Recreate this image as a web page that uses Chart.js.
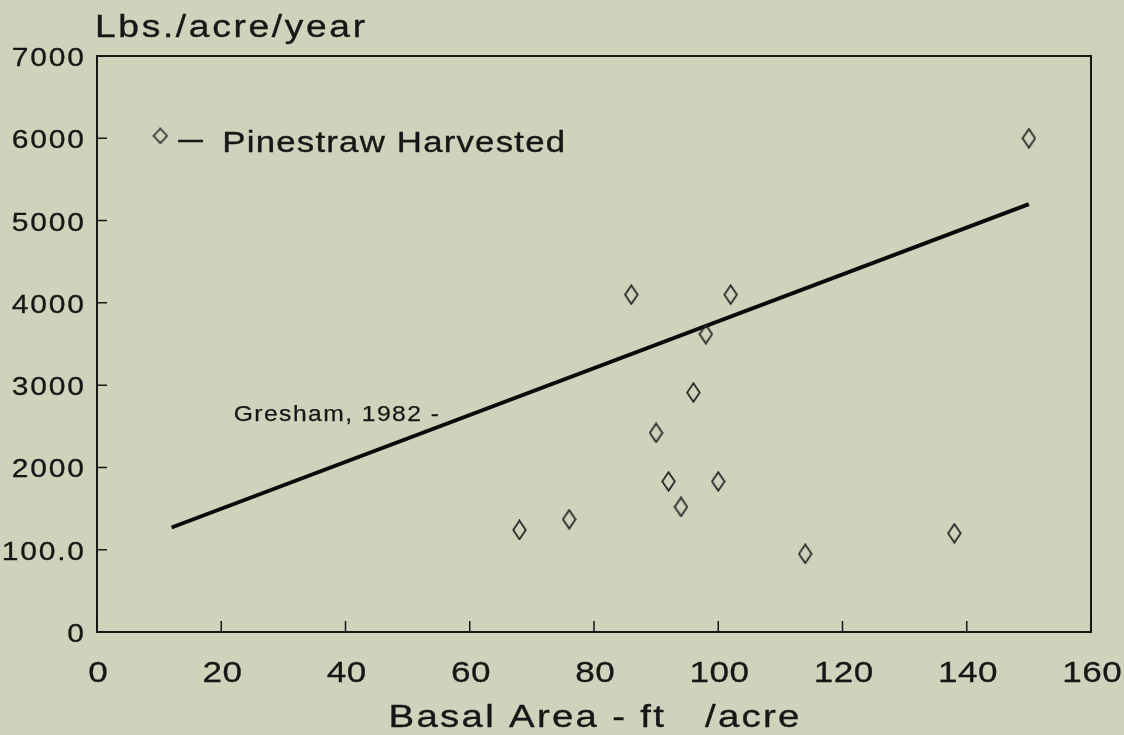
<!DOCTYPE html>
<html>
<head>
<meta charset="utf-8">
<script src="https://cdn.jsdelivr.net/npm/chart.js@4.4.1/dist/chart.umd.min.js"></script>
<style>
  html, body { margin: 0; padding: 0; background: #d0d2bc; }
  #wrap { width: 1124px; height: 735px; position: relative; }
</style>
</head>
<body>
<div id="wrap"><canvas id="c" width="1124" height="735"></canvas></div>
<script>
// ---- data ----
const basalArea = [150, 86, 102, 98, 96, 90, 92, 100, 94, 68, 76, 114, 138];
const harvested = [6000, 4100, 4100, 3620, 2910, 2420, 1830, 1830, 1520, 1240, 1370, 950, 1200];
const greshamX = [12, 150];
const greshamY = [1270, 5200];
const xTickValues = [0, 20, 40, 60, 80, 100, 120, 140, 160];
const xTickLabels = ['0', '20', '40', '60', '80', '100', '120', '140', '160'];
const yTickValues = [0, 1000, 2000, 3000, 4000, 5000, 6000, 7000];
const yTickLabels = ['0', '100.0', '2000', '3000', '4000', '5000', '6000', '7000'];
const yTitle = 'Lbs./acre/year';
const xTitle = 'Basal Area - ft   /acre';
const legendDash = '\u2014';
const legendLabel = 'Pinestraw Harvested';
const legendPos = [10.2, 6030];
const lineLabel = 'Gresham, 1982 -';
const lineLabelPos = [22, 2560];

const INK = '#161616';
const FONT = '"Liberation Sans", Arial, sans-serif';

function makeDiamond(w, h, lw) {
  const cv = document.createElement('canvas');
  cv.width = w; cv.height = h;
  const g = cv.getContext('2d');
  g.strokeStyle = '#232323';
  g.lineWidth = lw;
  g.beginPath();
  g.moveTo(w / 2, 1.2);
  g.lineTo(w - 1.2, h / 2);
  g.lineTo(w / 2, h - 1.2);
  g.lineTo(1.2, h / 2);
  g.closePath();
  g.stroke();
  return cv;
}
const diamond = makeDiamond(15, 21, 1.7);
const legendDiamond = makeDiamond(16, 17, 1.5);

// draw text horizontally stretched with letter spacing; y is the baseline
function sText(ctx, text, x, y, size, align, sx, spacing, weight) {
  ctx.save();
  ctx.font = size + 'px ' + FONT;
  ctx.fillStyle = INK;
  ctx.strokeStyle = INK;
  ctx.lineWidth = weight;
  ctx.lineJoin = 'round';
  ctx.textBaseline = 'alphabetic';
  ctx.textAlign = 'left';
  try { ctx.letterSpacing = spacing + 'px'; } catch (e) {}
  let w = ctx.measureText(text).width;
  if (ctx.letterSpacing && ctx.letterSpacing !== '0px') w -= spacing;
  const W = w * sx;
  const left = align === 'left' ? x : align === 'right' ? x - W : x - W / 2;
  ctx.translate(left, y);
  ctx.scale(sx, 1);
  ctx.fillText(text, 0, 0);
  if (weight > 0) ctx.strokeText(text, 0, 0);
  ctx.restore();
}

const decor = {
  id: 'decor',
  afterDraw(chart) {
    const { ctx, chartArea: a, scales: { x, y } } = chart;
    ctx.save();
    // frame
    ctx.strokeStyle = INK;
    ctx.lineWidth = 2;
    ctx.strokeRect(a.left, a.top, a.right - a.left, a.bottom - a.top);
    // inward ticks
    ctx.lineWidth = 1.5;
    ctx.beginPath();
    xTickValues.forEach(v => {
      const px = x.getPixelForValue(v);
      ctx.moveTo(px, a.bottom); ctx.lineTo(px, a.bottom - 11);
    });
    yTickValues.forEach(v => {
      const py = y.getPixelForValue(v);
      ctx.moveTo(a.left, py); ctx.lineTo(a.left + 10, py);
    });
    ctx.stroke();
    ctx.restore();
    // tick labels
    yTickValues.forEach((v, i) => {
      sText(ctx, yTickLabels[i], a.left - 13, y.getPixelForValue(v) + 10, 25, 'right', 1.2, 1.5, 0.3);
    });
    xTickValues.forEach((v, i) => {
      sText(ctx, xTickLabels[i], x.getPixelForValue(v) + 1, a.bottom + 50, 30, 'center', 1.17, 0.5, 0.3);
    });
    // titles
    sText(ctx, yTitle, 95, 37, 31, 'left', 1.2, 2.2, 0.35);
    sText(ctx, xTitle, (a.left + a.right) / 2, 727, 32, 'center', 1.2, 1.9, 0.35);
    // legend
    const lx = x.getPixelForValue(legendPos[0]);
    const ly = y.getPixelForValue(legendPos[1]);
    ctx.drawImage(legendDiamond, lx - legendDiamond.width / 2, ly - legendDiamond.height / 2);
    sText(ctx, legendDash, lx + 18, ly + 13, 29, 'left', 0.85, 0, 0.3);
    sText(ctx, legendLabel, lx + 62, ly + 16, 29, 'left', 1.2, 1, 0.35);
    // line label
    sText(ctx, lineLabel, x.getPixelForValue(lineLabelPos[0]), y.getPixelForValue(lineLabelPos[1]), 22, 'left', 1.12, 1.3, 0.25);
  }
};

new Chart(document.getElementById('c'), {
  type: 'scatter',
  data: {
    datasets: [
      {
        label: 'Pinestraw Harvested',
        data: basalArea.map((v, i) => ({ x: v, y: harvested[i] })),
        pointStyle: diamond,
        pointRadius: 10,
        showLine: false
      },
      {
        label: 'Gresham, 1982',
        data: greshamX.map((v, i) => ({ x: v, y: greshamY[i] })),
        showLine: true,
        borderColor: '#0a0a0a',
        borderWidth: 4,
        pointRadius: 0
      }
    ]
  },
  plugins: [decor],
  options: {
    responsive: false,
    animation: false,
    layout: { padding: { top: 56, right: 33, left: 0, bottom: 0 } },
    plugins: { legend: { display: false }, tooltip: { enabled: false } },
    scales: {
      x: {
        type: 'linear', min: 0, max: 160,
        afterBuildTicks: s => { s.ticks = xTickValues.map(v => ({ value: v })); },
        afterFit: s => { s.height = 103; },
        grid: { display: false, drawTicks: false },
        border: { display: false },
        ticks: { display: false }
      },
      y: {
        type: 'linear', min: 0, max: 7000,
        afterBuildTicks: s => { s.ticks = yTickValues.map(v => ({ value: v })); },
        afterFit: s => { s.width = 97; },
        grid: { display: false, drawTicks: false },
        border: { display: false },
        ticks: { display: false }
      }
    }
  }
});
</script>
</body>
</html>
